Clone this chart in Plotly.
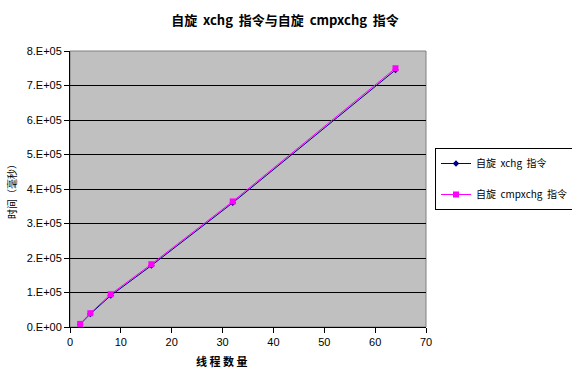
import plotly.graph_objects as go

threads = [2, 4, 8, 16, 32, 64]
xchg_ms = [8000, 38000, 91000, 178000, 360000, 745000]
cmpxchg_ms = [9000, 40000, 95000, 182000, 364000, 750000]
y_tickvals = [0, 100000, 200000, 300000, 400000, 500000, 600000, 700000, 800000]
y_ticktext = ["0.E+00", "1.E+05", "2.E+05", "3.E+05", "4.E+05", "5.E+05", "6.E+05", "7.E+05", "8.E+05"]

font_lat = "Liberation Sans, Arial, sans-serif"
font_cjk = "Noto Sans CJK SC, sans-serif"

fig = go.Figure()
fig.add_trace(go.Scatter(
    x=threads, y=xchg_ms, name="自旋  xchg  指令", mode="lines+markers",
    legendgroup="a",
    line=dict(color="#000080", width=1),
    marker=dict(symbol="diamond", size=5, color="#000080"),
))
fig.add_trace(go.Scatter(
    x=threads, y=cmpxchg_ms, name="自旋  cmpxchg  指令", mode="lines+markers",
    legendgroup="b",
    line=dict(color="#FF00FF", width=1),
    marker=dict(symbol="square", size=6, color="#FF00FF"),
))

fig.update_layout(
    width=572, height=371,
    margin=dict(l=70, r=146, t=51, b=44, autoexpand=False),
    paper_bgcolor="white",
    plot_bgcolor="#C0C0C0",
    title=dict(text="<b>自旋  xchg  指令与自旋  cmpxchg  指令</b>",
               x=285/572, xanchor="center", y=1-20/371, yanchor="middle",
               font=dict(family=font_cjk, size=13, color="black")),
    font=dict(family=font_lat, size=11, color="black"),
    showlegend=True,
    legend=dict(xref="container", yref="container",
                x=435/572, xanchor="left", y=1-148/371, yanchor="top",
                bgcolor="white", bordercolor="black", borderwidth=1,
                font=dict(family=font_cjk, size=10, color="black"),
                traceorder="grouped", tracegroupgap=12, itemwidth=30),
    xaxis=dict(range=[0, 70], tickvals=[0, 10, 20, 30, 40, 50, 60, 70],
               showgrid=False, zeroline=False, showline=True, linecolor="black", linewidth=1,
               ticks="outside", ticklen=5, tickcolor="black",
               tickfont=dict(family=font_lat, size=11), mirror=False),
    yaxis=dict(range=[0, 800000], tickvals=y_tickvals, ticktext=y_ticktext,
               showgrid=True, gridcolor="black", gridwidth=1, zeroline=False,
               showline=True, linecolor="black", linewidth=1,
               ticks="outside", ticklen=5, tickcolor="black",
               tickfont=dict(family=font_lat, size=11),
               title=dict(text="时间（毫秒）", font=dict(family=font_cjk, size=10), standoff=8)),
)

# plot area border (gray top/right)
fig.add_shape(type="rect", xref="paper", yref="paper", x0=0, y0=0, x1=1, y1=1,
              line=dict(color="#808080", width=1), layer="below")

fig.add_annotation(text="<b>线 程 数 量</b>", xref="paper", yref="paper",
                   x=(222-70)/356, y=-(361-327)/276, xanchor="center", yanchor="middle",
                   showarrow=False, font=dict(family=font_cjk, size=11, color="black"))

fig.write_html("out.html")
